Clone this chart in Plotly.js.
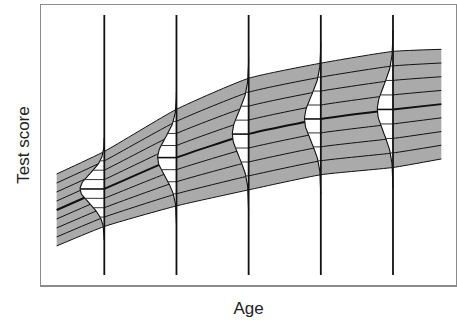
<!DOCTYPE html>
<html>
<head>
<meta charset="utf-8">
<script src="https://cdn.plot.ly/plotly-3.0.1.min.js"></script>
<style>
  html, body { margin: 0; padding: 0; background: #fff; }
  #chart { width: 457px; height: 326px; }
</style>
</head>
<body>
<div id="chart"></div>
<script>
// Score distribution by age: a grey band of percentile curves with a
// normal density drawn at each reference age.
const bandAges    = [0.34, 1, 2, 3, 4, 5, 5.67];
const medianScore = [26.8, 34.3, 45.5, 53.9, 59.3, 62.7, 64.6];
const sdScore     = [5.14, 5.36, 6.90, 7.97, 7.97, 8.29, 7.83];
const curveAges   = [1, 2, 3, 4, 5];
const zLevels     = [-2.5, -1.875, -1.25, -0.625, 0, 0.625, 1.25, 1.875, 2.5];

const BAND_GRAY = '#aaaaaa';
const INK = '#111111';
const DENSITY_SCALE = 4.5;   // age units per unit of probability density
const SMOOTH = 0.5;

const traces = [];
const lineAt = z => bandAges.map((a, i) => medianScore[i] + z * sdScore[i]);
const density = (z, s) => Math.exp(-z * z / 2) / (s * Math.sqrt(2 * Math.PI));

const zLo = zLevels[0];
const zHi = zLevels[zLevels.length - 1];

// grey band between the outermost curves
traces.push({
  x: bandAges, y: lineAt(zLo), mode: 'lines',
  line: { color: 'rgba(0,0,0,0)', width: 0, shape: 'spline', smoothing: SMOOTH }
});
traces.push({
  x: bandAges, y: lineAt(zHi), mode: 'lines', fill: 'tonexty', fillcolor: BAND_GRAY,
  line: { color: 'rgba(0,0,0,0)', width: 0, shape: 'spline', smoothing: SMOOTH }
});

// percentile curves, median heavier
zLevels.forEach(z => {
  traces.push({
    x: bandAges, y: lineAt(z), mode: 'lines',
    line: { color: INK, width: z === 0 ? 2 : 1, shape: 'spline', smoothing: SMOOTH }
  });
});

// density at each reference age, opening to the left of the age line
curveAges.forEach(age => {
  const i = bandAges.indexOf(age);
  const m = medianScore[i];
  const s = sdScore[i];
  const px = [], py = [];
  for (let k = -34; k <= 34; k++) {
    const z = k / 10;
    px.push(age - DENSITY_SCALE * density(z, s));
    py.push(m + z * s);
  }
  traces.push({
    x: px, y: py, mode: 'lines', fill: 'toself', fillcolor: '#ffffff',
    line: { color: INK, width: 1.1 }
  });

  const hx = [], hy = [];
  const mx = [], my = [];
  zLevels.forEach(z => {
    if (Math.abs(z) >= zHi) return;
    const xs = [age - DENSITY_SCALE * density(z, s), age];
    const yv = m + z * s;
    if (z === 0) { mx.push(...xs); my.push(yv, yv); }
    else { hx.push(...xs, null); hy.push(yv, yv, null); }
  });
  traces.push({ x: hx, y: hy, mode: 'lines', line: { color: '#333333', width: 1 } });
  traces.push({ x: mx, y: my, mode: 'lines', line: { color: INK, width: 1.6 } });
});

// vertical reference lines at each age
const shapes = curveAges.map(age => ({
  type: 'line', xref: 'x', yref: 'paper',
  x0: age, x1: age, y0: 0.036, y1: 0.964,
  line: { color: INK, width: 1.8 }, layer: 'above'
}));

const titleFont = { family: 'Liberation Sans, Arial, sans-serif', size: 17, color: '#222222' };

const axisBase = {
  showgrid: false, zeroline: false, showticklabels: false, ticks: '',
  showline: true, mirror: true, linecolor: '#8a8a8a', linewidth: 1.5,
  fixedrange: true
};

const layout = {
  width: 457, height: 326,
  margin: { l: 41, r: 1, t: 5, b: 41 },
  paper_bgcolor: '#ffffff', plot_bgcolor: '#ffffff',
  showlegend: false, hovermode: false,
  xaxis: Object.assign({}, axisBase, {
    range: [0.123, 5.873],
    title: { text: 'Age', font: titleFont, standoff: 16 }
  }),
  yaxis: Object.assign({}, axisBase, {
    range: [0, 100],
    title: { text: 'Test score', font: titleFont, standoff: 5 }
  }),
  shapes: shapes
};

Plotly.newPlot('chart', traces, layout, { staticPlot: true, displayModeBar: false });
</script>
</body>
</html>
